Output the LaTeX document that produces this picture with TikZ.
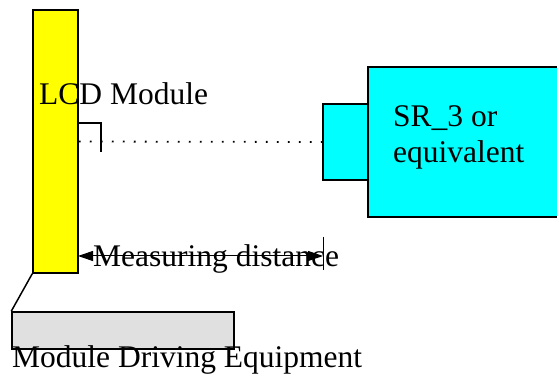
\documentclass[tikz,border=0pt]{standalone}
\usepackage{fontspec}
\setmainfont{Liberation Serif}
\usetikzlibrary{arrows.meta}
\definecolor{lcdyellow}{RGB}{255,255,0}
\definecolor{srcyan}{RGB}{0,255,255}
\definecolor{benchgray}{RGB}{224,224,224}

\begin{document}
\begin{tikzpicture}[x=1pt, y=-1pt]
	\tikzstyle{module}=[rectangle, draw, line width=1.5pt, fill=lcdyellow,
	minimum width=45pt, minimum height=263pt, inner sep=0pt]
	\tikzstyle{meter}=[rectangle, draw, line width=1.5pt, fill=srcyan, inner sep=0pt]
	\tikzstyle{bench}=[rectangle, draw, line width=1.5pt, fill=benchgray,
	minimum width=222pt, minimum height=37pt, inner sep=0pt]
	\tikzstyle{label}=[anchor=base west, inner sep=0pt, font=\fontsize{31.5}{36}\selectfont]

	\useasboundingbox (0,0) rectangle (557,379);

	\node[module] at (55.5,141.5) (lcd) {};
	\node[meter, minimum width=190pt, minimum height=150pt] at (463,142) (sensor) {};
	\node[meter, minimum width=45pt, minimum height=76pt] at (345.5,142) (lens) {};
	\node[bench] at (123,330.5) (equip) {};

	\node[label] at (39,105) (lcdtext) {LCD Module};
	\node[label] at (393,127) (srtext) {SR\_3 or};
	\node[label] at (393,163) (eqtext) {equivalent};
	\node[label] at (93,267) (disttext) {Measuring distance};
	\node[label] at (12,367) (equiptext) {Module Driving Equipment};

	\coordinate (hookstart) at (78,123);
	\coordinate (hookend) at (101,152);
	\coordinate (distleft) at (78,256);
	\coordinate (distright) at (323,256);
	\coordinate (ticktop) at (323,237);
	\coordinate (tickbottom) at (323,270);

	\draw[line width=1.2pt] (hookstart) -| (hookend);
	\draw[line width=1.8pt, dash pattern=on 1.8pt off 9.2pt] (lcd.east) -- (lens.west);
	\draw[line width=1pt, {Triangle[length=15pt,width=10pt]}-{Triangle[length=15pt,width=10pt]}] (distleft) -- (distright);
	\draw[line width=1pt] (ticktop) -- (tickbottom);
	\draw[line width=1.5pt] (lcd.south west) -- (equip.north west);
\end{tikzpicture}
\end{document}
